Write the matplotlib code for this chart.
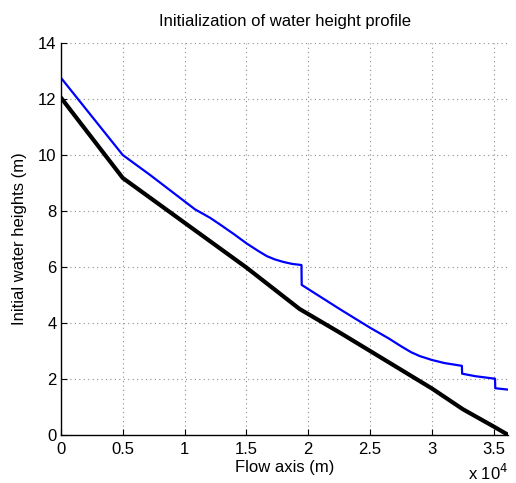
import numpy as np
import matplotlib.pyplot as plt

plt.rcParams['font.family'] = ['Liberation Sans', 'DejaVu Sans']

# initial profile (black) and adjusted profile (blue), distance in m
x_init = [0, 5000, 10000, 15000, 19300, 22570, 25000, 30000, 32500, 35000, 36170]
h_init = [12.05, 9.18, 7.58, 5.98, 4.50, 3.65, 3.00, 1.66, 0.92, 0.30, 0.0]

x_prof = [0, 5000, 7200, 10840, 12050, 12860, 14000, 15020, 16000, 16640, 17300,
          17990, 18700, 19450, 19470, 22570, 25000, 26500, 27500, 28300, 29000,
          29990, 31000, 32420, 32440, 33500, 35100, 35120, 36170]
h_prof = [12.76, 10.0, 9.29, 8.06, 7.76, 7.52, 7.17, 6.84, 6.56, 6.39, 6.27,
          6.18, 6.11, 6.07, 5.36, 4.49, 3.83, 3.45, 3.17, 2.96, 2.82,
          2.68, 2.57, 2.47, 2.19, 2.10, 2.01, 1.67, 1.62]

xticks = [0, 5000, 10000, 15000, 20000, 25000, 30000, 35000]
xticklabels = ["0", "0.5", "1", "1.5", "2", "2.5", "3", "3.5"]
yticks = [0, 2, 4, 6, 8, 10, 12, 14]

fig = plt.figure(figsize=(5.16, 4.83), dpi=100)
ax = fig.add_axes([0.118, 0.0994, 0.867, 0.8116])

ax.plot(x_prof, h_prof, color='#0000ff', lw=1.6)
ax.plot(x_init, h_init, color='k', lw=3.0)

ax.set_xlim(0, 36170)
ax.set_ylim(0, 14)
ax.set_xticks(xticks)
ax.set_xticklabels(xticklabels)
ax.set_yticks(yticks)
ax.tick_params(direction='in', length=4, width=0.8, labelsize=12, pad=3)
ax.tick_params(axis='x', pad=5)
ax.grid(True, linestyle=(0, (1, 3)), color='0.55', lw=0.8)

for s in ['top', 'right']:
    ax.spines[s].set_visible(False)
ax.spines['left'].set_linewidth(1.0)
ax.spines['bottom'].set_linewidth(1.0)

ax.set_title("Initialization of water height profile", fontsize=12, pad=12)
ax.set_xlabel("Flow axis (m)", fontsize=12, labelpad=2)
ax.set_ylabel("Initial water heights (m)", fontsize=12, labelpad=8)
ax.text(1.0, -0.072, r"x 10$^4$", transform=ax.transAxes, ha='right', va='top', fontsize=12)

fig.savefig("out.png", dpi=100)
